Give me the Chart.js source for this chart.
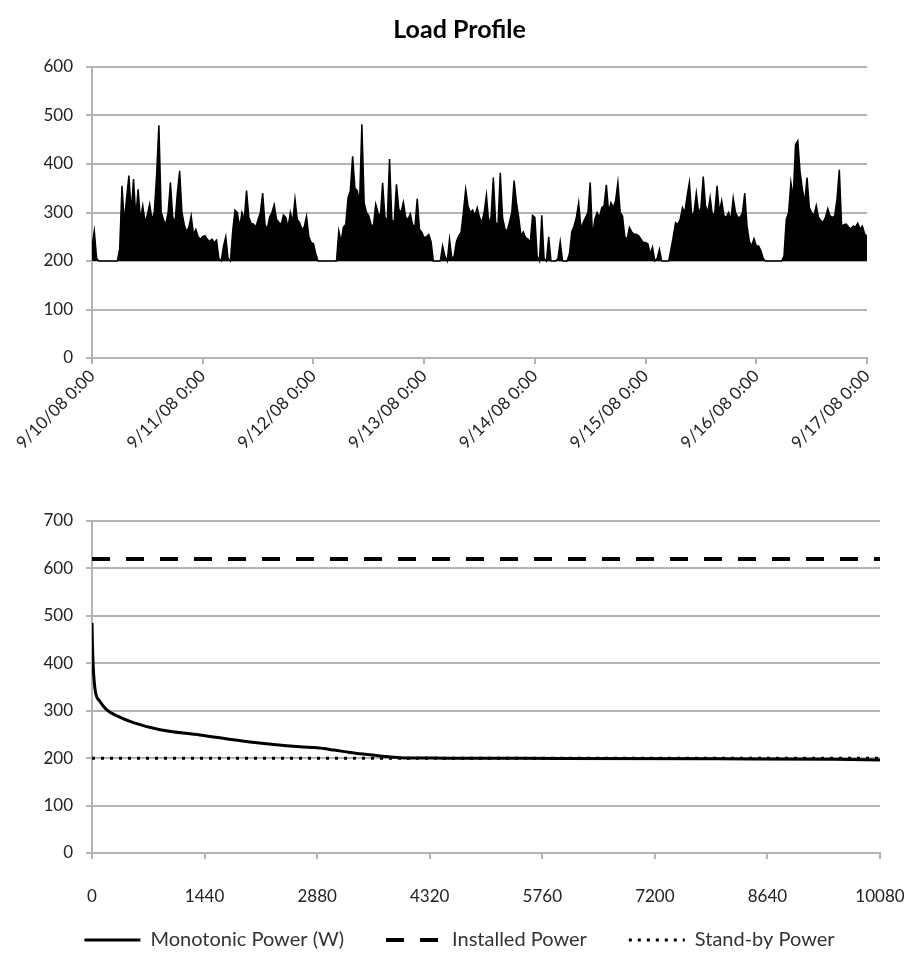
<!DOCTYPE html>
<html>
<head>
<meta charset="utf-8">
<title>Load Profile</title>
<script src="https://cdn.jsdelivr.net/npm/chart.js@4.4.1/dist/chart.umd.min.js"></script>
<style>
  html, body { margin: 0; padding: 0; background: #fff; }
  #wrap { position: relative; width: 919px; height: 958px; overflow: hidden; }
  .box { position: absolute; left: 0; }
  #profileBox { top: 0; }
  #monoBox { top: 490px; }
</style>
</head>
<body>
<div id="wrap">
  <div class="box" id="profileBox"><canvas id="profileChart" width="919" height="460"></canvas></div>
  <div class="box" id="monoBox"><canvas id="monoChart" width="919" height="470"></canvas></div>
</div>
<script>
// top chart: one week of measured load, read every 30 minutes off the picture
const dayLabels = ['9/10/08 0:00', '9/11/08 0:00', '9/12/08 0:00', '9/13/08 0:00',
                   '9/14/08 0:00', '9/15/08 0:00', '9/16/08 0:00', '9/17/08 0:00'];
const profileStep = 30; // minutes between readings
const profilePower = [
  // 9/10
  230, 262, 205, 200, 200, 200, 200, 200, 200, 200, 200, 200, 225, 355, 280, 330, 376, 300, 369, 290, 348, 285,
  314, 280, 295, 317, 285, 300, 376, 480, 300, 285, 275, 300, 362, 290, 280, 340, 386, 300, 275, 260,
  270, 293, 255, 265, 250, 245,
  // 9/11
  250, 252, 245, 240, 245, 238, 243, 205, 200, 230, 250, 205, 200, 262, 305, 300, 270, 300, 285, 345,
  290, 278, 276, 270, 285, 300, 340, 275, 266, 290, 300, 316, 286, 280, 275, 295, 290, 270, 300, 280,
  328, 285, 279, 265, 270, 292, 250, 238,
  // 9/12
  236, 215, 200, 200, 200, 200, 200, 200, 200, 200, 200, 262, 240, 270, 275, 330, 345, 416, 350, 345,
  320, 482, 320, 300, 293, 275, 272, 317, 300, 290, 361, 290, 283, 410, 285, 279, 358, 307, 300, 321,
  290, 286, 297, 275, 270, 328, 265, 259,
  // 9/13
  248, 250, 255, 240, 200, 200, 200, 200, 231, 210, 200, 245, 205, 210, 240, 252, 259, 300, 348, 314,
  300, 305, 293, 310, 290, 279, 300, 336, 279, 290, 372, 280, 272, 382, 290, 266, 262, 280, 300, 366,
  321, 290, 252, 260, 248, 245, 238, 294,
  // 9/14
  290, 210, 200, 294, 205, 200, 250, 200, 200, 200, 205, 240, 200, 200, 200, 215, 260, 272, 290, 320,
  266, 280, 290, 300, 362, 250, 286, 300, 290, 310, 314, 357, 300, 320, 310, 324, 362, 300, 293, 250,
  245, 269, 260, 255, 255, 252, 245, 238,
  // 9/15
  238, 235, 215, 228, 200, 205, 224, 200, 200, 200, 200, 224, 250, 279, 275, 286, 310, 300, 334, 362,
  293, 300, 340, 300, 310, 374, 314, 300, 331, 293, 300, 355, 300, 324, 293, 290, 300, 285, 330, 300,
  290, 290, 300, 340, 272, 240, 231, 246,
  // 9/16
  231, 231, 221, 205, 200, 200, 200, 200, 200, 200, 200, 200, 210, 286, 300, 362, 330, 440, 448, 383,
  348, 321, 372, 310, 300, 293, 314, 290, 283, 280, 290, 308, 293, 290, 293, 328, 388, 272, 275, 276,
  270, 266, 272, 270, 278, 266, 272, 255, 252
];

// bottom chart: sorted (monotonic) load curve and reference levels
const monoMinutes = [0, 5, 15, 40, 100, 190, 320, 530, 870, 1380, 2020, 2660, 2880, 3100, 3300, 3500, 3720, 3940, 4500, 6000, 8000, 9500, 10080];
const monoPower   = [485, 445, 395, 344, 320, 302, 289, 275, 260, 249, 234, 224, 222, 217, 212, 208, 204, 201, 200, 199.5, 198.5, 197.5, 196];
const installedPower = 620;
const standbyPower = 200;
const weekMinutes = 10080;
const dayMinutes = 1440;

Chart.defaults.font.family = 'Lato, "Open Sans", sans-serif';
Chart.defaults.font.size = 17;
Chart.defaults.color = '#222';

const gridGray = '#b4b4b4';

// empty axis on the right, only to leave room there while keeping the title/legend centred on the page
const spacerAxis = width => ({
  position: 'right',
  afterFit: s => { s.width = width; },
  grid: { display: false },
  border: { display: false },
  ticks: { display: false }
});

/* Load profile (top) */
const profilePoints = profilePower.map((p, i) => ({ x: i * profileStep, y: p }));

new Chart(document.getElementById('profileChart'), {
  type: 'line',
  data: {
    datasets: [{
      data: profilePoints,
      borderColor: '#000',
      backgroundColor: '#000',
      borderWidth: 1.5,
      pointRadius: 0,
      tension: 0,
      fill: { value: 200 }
    }]
  },
  options: {
    responsive: false,
    animation: false,
    layout: { padding: 0 },
    plugins: {
      legend: { display: false },
      tooltip: { enabled: false },
      title: {
        display: true,
        text: 'Load Profile',
        color: '#000',
        font: { size: 25, weight: 'bold' },
        padding: { top: 15, bottom: 22 }
      }
    },
    scales: {
      x: {
        type: 'linear',
        min: 0,
        max: weekMinutes,
        afterFit: s => { s.height = 102; },
        grid: { drawOnChartArea: false, tickLength: 6, color: gridGray, lineWidth: 2 },
        border: { color: gridGray, width: 2 },
        ticks: {
          stepSize: dayMinutes,
          autoSkip: false,
          minRotation: 45,
          maxRotation: 45,
          padding: 2,
          callback: v => dayLabels[Math.round(v / dayMinutes)]
        }
      },
      y: {
        min: 0,
        max: 600,
        afterFit: s => { s.width = 92; },
        grid: { color: gridGray, lineWidth: 2, tickLength: 6 },
        border: { color: gridGray, width: 2 },
        ticks: { stepSize: 100, padding: 13 }
      },
      yRight: spacerAxis(52)
    }
  }
});

/* Monotonic curve (bottom) */
const monoPoints = monoMinutes.map((m, i) => ({ x: m, y: monoPower[i] }));

new Chart(document.getElementById('monoChart'), {
  type: 'line',
  data: {
    datasets: [
      {
        label: 'Monotonic Power (W)',
        data: monoPoints,
        borderColor: '#000',
        borderWidth: 3,
        pointRadius: 0,
        cubicInterpolationMode: 'monotone',
        fill: false
      },
      {
        label: 'Installed Power',
        data: [{ x: 0, y: installedPower }, { x: weekMinutes, y: installedPower }],
        borderColor: '#000',
        borderWidth: 4,
        borderDash: [18, 16],
        pointRadius: 0,
        fill: false
      },
      {
        label: 'Stand-by Power',
        data: [{ x: 0, y: standbyPower }, { x: weekMinutes, y: standbyPower }],
        borderColor: '#000',
        borderWidth: 3,
        borderDash: [3, 6],
        pointRadius: 0,
        fill: false
      }
    ]
  },
  options: {
    responsive: false,
    animation: false,
    layout: { padding: { left: 0, right: 0, top: 31, bottom: 0 } },
    plugins: {
      tooltip: { enabled: false },
      legend: {
        position: 'bottom',
        labels: {
          usePointStyle: true,
          pointStyleWidth: 56,
          padding: 42,
          color: '#333',
          font: { size: 20 },
          // line samples carry each dataset's own dash pattern
          generateLabels: chart => chart.data.datasets.map((ds, i) => ({
            text: ds.label,
            datasetIndex: i,
            pointStyle: 'line',
            strokeStyle: ds.borderColor,
            fillStyle: ds.borderColor,
            lineWidth: ds.borderWidth,
            lineDash: ds.borderDash || [],
            lineCap: 'butt',
            fontColor: '#333',
            hidden: false
          }))
        }
      }
    },
    scales: {
      x: {
        type: 'linear',
        min: 0,
        max: weekMinutes,
        // labels sit well below the axis; mirror + negative padding keeps them unclipped and the box short
        afterFit: s => { s.height = 35; },
        grid: { drawOnChartArea: false, tickLength: 6, color: gridGray, lineWidth: 2 },
        border: { color: gridGray, width: 2 },
        ticks: {
          stepSize: dayMinutes,
          autoSkip: false,
          maxRotation: 0,
          mirror: true,
          padding: -54,
          callback: v => String(v)
        }
      },
      y: {
        min: 0,
        max: 700,
        afterFit: s => { s.width = 92; },
        grid: { color: gridGray, lineWidth: 2, tickLength: 6 },
        border: { color: gridGray, width: 2 },
        ticks: { stepSize: 100, padding: 13 }
      },
      yRight: spacerAxis(39)
    }
  }
});
</script>
</body>
</html>
